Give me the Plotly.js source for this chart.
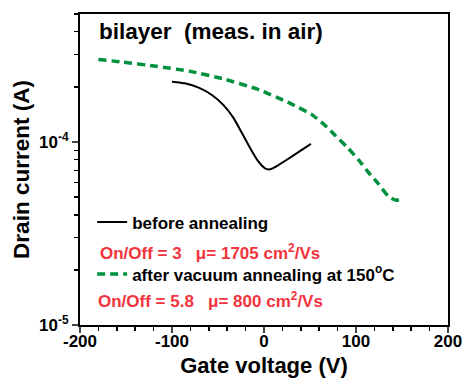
<!DOCTYPE html>
<html>
<head>
<meta charset="utf-8">
<script src="https://cdn.plot.ly/plotly-3.0.1.min.js"></script>
<style>html,body{margin:0;padding:0;background:#fff;}#chart{width:465px;height:378px;}</style>
</head>
<body>
<div id="chart"></div>
<script>
// Data
const beforeV = [-100, -86, -71, -57, -44, -33, -24, -15, -6, 1, 5, 10, 16, 30, 51];
const beforeI = [2.135e-4, 2.09e-4, 1.98e-4, 1.81e-4, 1.59e-4, 1.35e-4, 1.12e-4, 9.24e-5, 7.80e-5, 7.18e-5, 7.06e-5, 7.2e-5, 7.49e-5, 8.31e-5, 9.75e-5];
const afterV = [-180, -153, -117, -80, -44, -8, 28, 52, 65, 77, 90, 103, 113, 124, 135, 140, 144, 148, 151];
const afterI = [2.82e-4, 2.73e-4, 2.59e-4, 2.43e-4, 2.21e-4, 1.95e-4, 1.63e-4, 1.41e-4, 1.25e-4, 1.09e-4, 9.41e-5, 7.96e-5, 6.87e-5, 5.93e-5, 5.05e-5, 4.88e-5, 4.80e-5, 4.85e-5, 4.94e-5];
const seriesNames = ["<b>before annealing</b>", "<b>after vacuum annealing at 150<sup>o</sup>C</b>"];
const seriesNotes = ["<b>On/Off = 3   μ= 1705 cm<sup>2</sup>/Vs</b>", "<b>On/Off = 5.8   μ= 800 cm<sup>2</sup>/Vs</b>"];
const xTickVals = [-200, -100, 0, 100, 200];
const xTickText = ["<b>-200</b>", "<b>-100</b>", "<b>0</b>", "<b>100</b>", "<b>200</b>"];
const yTickVals = [1e-5, 1e-4];
const yTickText = ["<b>10<sup>-5</sup></b>", "<b>10<sup>-4</sup></b>"];
const yMinorVals = [2e-5, 3e-5, 4e-5, 5e-5, 6e-5, 7e-5, 8e-5, 9e-5, 2e-4, 3e-4, 4e-4, 5e-4];

const FONT = "Arial, 'Liberation Sans', sans-serif";
const RED = "#F2333C";
const GREEN = "#00913F";

const traces = [
  {x: beforeV, y: beforeI, name: seriesNames[0], mode: "lines", type: "scatter",
   line: {color: "#000", width: 2, shape: "spline", smoothing: 0.4}, legendgroup: "a"},
  {x: afterV, y: afterI, name: seriesNames[1], mode: "lines", type: "scatter",
   line: {color: GREEN, width: 3.5, dash: "8px,5px", shape: "spline", smoothing: 0.4}, legendgroup: "b"}
];

const layout = {
  width: 465, height: 378,
  margin: {l: 80, r: 17, t: 14, b: 53},
  paper_bgcolor: "#fff", plot_bgcolor: "#fff",
  font: {family: FONT, color: "#000"},
  showlegend: true,
  legend: {x: 0.033, y: 0.388, xanchor: "left", yanchor: "top", bgcolor: "rgba(0,0,0,0)",
           font: {family: FONT, size: 17, color: "#000"},
           tracegroupgap: 27, itemwidth: 30},
  xaxis: {range: [-200, 200], tickvals: xTickVals, ticktext: xTickText, ticks: "outside", ticklen: 6, tickwidth: 2,
          ticklabelstandoff: -6,
          showline: true, linewidth: 2, linecolor: "#000", mirror: true, showgrid: false, zeroline: false,
          tickfont: {size: 17, family: FONT},
          minor: {dtick: 20, ticks: "outside", ticklen: 4, tickwidth: 1.5, tickcolor: "#000", showgrid: false},
          title: {text: "<b>Gate voltage (V)</b>", font: {size: 22, family: FONT}, standoff: 9}},
  yaxis: {type: "log", range: [-5, Math.log10(5e-4)], tickvals: yTickVals, ticktext: yTickText,
          ticks: "outside", ticklen: 6, tickwidth: 2,
          showline: true, linewidth: 2, linecolor: "#000", mirror: true, showgrid: false, zeroline: false,
          tickfont: {size: 17, family: FONT},
          minor: {tickvals: yMinorVals, ticks: "outside", ticklen: 4, tickwidth: 1.5, tickcolor: "#000", showgrid: false},
          title: {text: "<b>Drain current (A)</b>", font: {size: 22.5, family: FONT}, standoff: 3}},
  annotations: [
    {text: "<b>bilayer  (meas. in air)</b>", xref: "paper", yref: "paper", x: 0.045, y: 0.945,
     xanchor: "left", yanchor: "middle", showarrow: false,
     font: {size: 22.5, family: FONT, color: "#000"}},
    {text: seriesNotes[0], xref: "paper", yref: "paper", x: 0.048, y: 0.235,
     xanchor: "left", yanchor: "middle", showarrow: false,
     font: {size: 17, family: FONT, color: RED}},
    {text: seriesNotes[1], xref: "paper", yref: "paper", x: 0.043, y: 0.08,
     xanchor: "left", yanchor: "middle", showarrow: false,
     font: {size: 17, family: FONT, color: RED}}
  ]
};

Plotly.newPlot("chart", traces, layout, {displayModeBar: false, staticPlot: true});
</script>
</body>
</html>
